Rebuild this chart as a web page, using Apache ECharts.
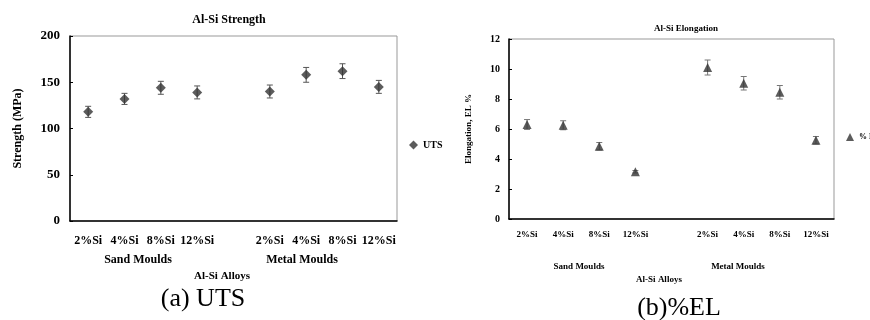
<!DOCTYPE html>
<html><head><meta charset="utf-8">
<script src="https://cdn.jsdelivr.net/npm/echarts@6/dist/echarts.min.js"></script>
<style>html,body{margin:0;padding:0;background:#fff}#c{width:870px;height:320px}</style>
</head><body><div id="c"></div>
<script>
const categories = ['2%Si','4%Si','8%Si','12%Si','','2%Si','4%Si','8%Si','12%Si'];
const utsValues = [118, 132, 144, 139, null, 140, 158, 162, 145];
const utsErrors = [6, 6, 7, 7, null, 7, 8, 8, 7];
const elValues = [6.3, 6.25, 4.85, 3.15, null, 10.1, 9.05, 8.45, 5.25];
const elErrors = [0.33, 0.3, 0.25, 0.08, null, 0.5, 0.45, 0.45, 0.25];
const utsTicks = {min: 0, max: 200, interval: 50};
const elTicks = {min: 0, max: 12, interval: 2};
const utsName = 'UTS';
const elName = '% EL';

const F = 'Liberation Serif, Times New Roman, serif';
function errData(vals, errs){
  const out = [];
  vals.forEach((v,i)=>{ if(v!=null) out.push([i, v-errs[i], v+errs[i]]); });
  return out;
}
function errRender(color){
  return function(params, api){
    const x = api.value(0);
    const hi = api.coord([x, api.value(2)]);
    const lo = api.coord([x, api.value(1)]);
    const w = 3;
    const st = {stroke: color, lineWidth: 1};
    return {type:'group', children:[
      {type:'line', shape:{x1:hi[0],y1:hi[1],x2:lo[0],y2:lo[1]}, style:st},
      {type:'line', shape:{x1:hi[0]-w,y1:hi[1],x2:hi[0]+w,y2:hi[1]}, style:st},
      {type:'line', shape:{x1:lo[0]-w,y1:lo[1],x2:lo[0]+w,y2:lo[1]}, style:st}
    ]};
  };
}
const chart = echarts.init(document.getElementById('c'));
const bold = (size)=>({fontFamily:F, fontWeight:'bold', fontSize:size, color:'#000'});
chart.setOption({
  animation:false,
  backgroundColor:'#fff',
  title:[
    {text:'Al-Si Strength', left:224, top:9, textAlign:'center', textStyle:bold(12)},
    {text:'Al-Si Elongation', left:681, top:19, textAlign:'center', textStyle:bold(9)}
  ],
  legend:[
    {data:[utsName], left:404, top:135, itemWidth:9, itemHeight:9, itemGap:4, textStyle:bold(10)},
    {data:[elName], left:841, top:128, itemWidth:8, itemHeight:8, itemGap:3, textStyle:bold(8)}
  ],
  grid:[
    {left:70, top:36, width:327, height:185, show:true, borderColor:'#999', borderWidth:1},
    {left:509, top:39, width:325, height:180, show:true, borderColor:'#999', borderWidth:1}
  ],
  xAxis:[
    {type:'category', gridIndex:0, data:categories, boundaryGap:true,
     axisLine:{lineStyle:{color:'#000', width:1.5}}, axisTick:{inside:true, length:4, lineStyle:{color:'#000'}},
     axisLabel:Object.assign({margin:14, interval:0}, bold(12))},
    {type:'category', gridIndex:1, data:categories, boundaryGap:true,
     axisLine:{lineStyle:{color:'#000', width:1.5}}, axisTick:{inside:true, length:4, lineStyle:{color:'#000'}},
     axisLabel:Object.assign({margin:11, interval:0}, bold(9))}
  ],
  yAxis:[
    {type:'value', gridIndex:0, min:utsTicks.min, max:utsTicks.max, interval:utsTicks.interval,
     name:'Strength (MPa)', nameLocation:'middle', nameGap:46, nameTextStyle:bold(12),
     axisLine:{show:true, lineStyle:{color:'#000', width:1.5}}, axisTick:{show:true, inside:true, length:3, lineStyle:{color:'#000'}},
     splitLine:{show:false}, axisLabel:Object.assign({margin:10}, bold(13))},
    {type:'value', gridIndex:1, min:elTicks.min, max:elTicks.max, interval:elTicks.interval,
     name:'Elongation, EL %', nameLocation:'middle', nameGap:36, nameTextStyle:bold(9),
     axisLine:{show:true, lineStyle:{color:'#000', width:1.5}}, axisTick:{show:true, inside:true, length:3, lineStyle:{color:'#000'}},
     splitLine:{show:false}, axisLabel:Object.assign({margin:9}, bold(10))}
  ],
  series:[
    {type:'custom', xAxisIndex:0, yAxisIndex:0, data:errData(utsValues, utsErrors),
     renderItem:errRender('#555'), encode:{x:0, y:[1,2]}, silent:true, z:1},
    {name:utsName, type:'scatter', xAxisIndex:0, yAxisIndex:0, data:utsValues,
     symbol:'diamond', symbolSize:10, itemStyle:{color:'#333'}, z:2},
    {type:'custom', xAxisIndex:1, yAxisIndex:1, data:errData(elValues, elErrors),
     renderItem:errRender('#777'), encode:{x:0, y:[1,2]}, silent:true, z:1},
    {name:elName, type:'scatter', xAxisIndex:1, yAxisIndex:1, data:elValues,
     symbol:'triangle', symbolSize:9, itemStyle:{color:'#333'}, z:2}
  ],
  graphic:[
    {type:'text', x:138, y:254, style:{text:'Sand Moulds', font:'bold 12px '+F, fill:'#000', textAlign:'center'}},
    {type:'text', x:302, y:254, style:{text:'Metal Moulds', font:'bold 12px '+F, fill:'#000', textAlign:'center'}},
    {type:'text', x:222, y:271, style:{text:'Al-Si Alloys', font:'bold 11px '+F, fill:'#000', textAlign:'center'}},
    {type:'text', x:203, y:286, style:{text:'(a) UTS', font:'26px '+F, fill:'#000', textAlign:'center'}},
    {type:'text', x:579, y:262, style:{text:'Sand Moulds', font:'bold 9px '+F, fill:'#000', textAlign:'center'}},
    {type:'text', x:738, y:262, style:{text:'Metal Moulds', font:'bold 9px '+F, fill:'#000', textAlign:'center'}},
    {type:'text', x:659, y:275, style:{text:'Al-Si Alloys', font:'bold 9px '+F, fill:'#000', textAlign:'center'}},
    {type:'text', x:679, y:295, style:{text:'(b)%EL', font:'26px '+F, fill:'#000', textAlign:'center'}}
  ]
});
</script></body></html>
